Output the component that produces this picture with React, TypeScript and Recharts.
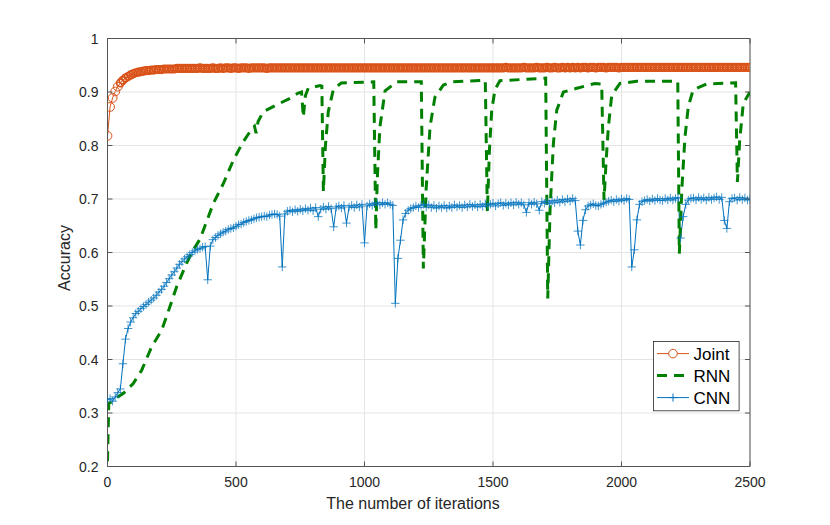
import { LineChart, Line, XAxis, YAxis, CartesianGrid, ReferenceLine } from 'recharts';

// sampled every 10 iterations
const iterations = Array.from({ length: 251 }, (_, i) => i * 10);

const jointAcc = [
  0.818, 0.872, 0.889, 0.901, 0.910, 0.917, 0.922, 0.926, 0.929, 0.932,
  0.934, 0.936, 0.937, 0.938, 0.939, 0.940, 0.940, 0.941, 0.941, 0.942,
  0.942, 0.942, 0.943, 0.943, 0.943, 0.943, 0.943, 0.944, 0.944, 0.944,
  0.944, 0.944, 0.944, 0.944, 0.944, 0.944, 0.945, 0.944, 0.944, 0.944,
  0.944, 0.945, 0.944, 0.944, 0.945, 0.944, 0.945, 0.945, 0.944, 0.945,
  0.945, 0.944, 0.945, 0.945, 0.945, 0.944, 0.945, 0.945, 0.945, 0.945,
  0.945, 0.945, 0.944, 0.945, 0.945, 0.945, 0.945, 0.945, 0.945, 0.945,
  0.945, 0.945, 0.945, 0.945, 0.945, 0.945, 0.945, 0.945, 0.945, 0.945,
  0.945, 0.945, 0.945, 0.945, 0.945, 0.945, 0.945, 0.945, 0.945, 0.945,
  0.945, 0.945, 0.945, 0.945, 0.945, 0.945, 0.945, 0.945, 0.945, 0.945,
  0.945, 0.945, 0.945, 0.945, 0.945, 0.945, 0.945, 0.945, 0.945, 0.945,
  0.945, 0.945, 0.945, 0.945, 0.945, 0.945, 0.945, 0.945, 0.945, 0.945,
  0.945, 0.945, 0.945, 0.945, 0.945, 0.945, 0.945, 0.945, 0.945, 0.945,
  0.945, 0.945, 0.945, 0.945, 0.945, 0.945, 0.945, 0.945, 0.945, 0.945,
  0.945, 0.945, 0.945, 0.945, 0.945, 0.945, 0.945, 0.945, 0.945, 0.945,
  0.945, 0.945, 0.945, 0.945, 0.945, 0.946, 0.945, 0.945, 0.945, 0.945,
  0.945, 0.945, 0.946, 0.945, 0.945, 0.945, 0.945, 0.946, 0.945, 0.945,
  0.945, 0.946, 0.945, 0.945, 0.946, 0.945, 0.945, 0.946, 0.945, 0.946,
  0.945, 0.946, 0.945, 0.946, 0.945, 0.946, 0.946, 0.945, 0.946, 0.946,
  0.945, 0.946, 0.946, 0.946, 0.945, 0.946, 0.946, 0.946, 0.946, 0.945,
  0.946, 0.946, 0.946, 0.946, 0.946, 0.946, 0.946, 0.946, 0.946, 0.946,
  0.946, 0.946, 0.946, 0.946, 0.946, 0.946, 0.946, 0.946, 0.946, 0.946,
  0.946, 0.946, 0.946, 0.946, 0.946, 0.946, 0.946, 0.946, 0.946, 0.946,
  0.946, 0.946, 0.946, 0.946, 0.946, 0.946, 0.946, 0.946, 0.946, 0.946,
  0.946, 0.946, 0.946, 0.946, 0.946, 0.946, 0.946, 0.946, 0.946, 0.946,
  0.946,
];

const cnnAcc = [
  0.325, 0.327, 0.322, 0.330, 0.338, 0.345, 0.392, 0.438, 0.458, 0.470,
  0.478, 0.486, 0.490, 0.495, 0.499, 0.503, 0.507, 0.511, 0.515, 0.520,
  0.526, 0.531, 0.537, 0.544, 0.551, 0.558, 0.564, 0.571, 0.578, 0.583,
  0.588, 0.592, 0.596, 0.600, 0.603, 0.606, 0.607, 0.610, 0.611, 0.549,
  0.612, 0.624, 0.628, 0.632, 0.635, 0.638, 0.640, 0.643, 0.645, 0.646,
  0.649, 0.652, 0.653, 0.656, 0.658, 0.660, 0.661, 0.663, 0.665, 0.666,
  0.667, 0.668, 0.667, 0.670, 0.671, 0.672, 0.671, 0.668, 0.573, 0.672,
  0.677, 0.679, 0.676, 0.680, 0.677, 0.681, 0.678, 0.682, 0.679, 0.683,
  0.678, 0.684, 0.667, 0.681, 0.685, 0.681, 0.686, 0.682, 0.648, 0.685,
  0.687, 0.683, 0.688, 0.655, 0.685, 0.688, 0.684, 0.689, 0.685, 0.690,
  0.618, 0.687, 0.691, 0.688, 0.692, 0.693, 0.689, 0.693, 0.690, 0.693,
  0.690, 0.688, 0.505, 0.589, 0.623, 0.661, 0.673, 0.679, 0.682, 0.684,
  0.687, 0.684, 0.688, 0.690, 0.685, 0.689, 0.684, 0.688, 0.683, 0.687,
  0.684, 0.688, 0.683, 0.687, 0.684, 0.689, 0.685, 0.688, 0.684, 0.689,
  0.685, 0.690, 0.686, 0.689, 0.685, 0.690, 0.686, 0.691, 0.687, 0.690,
  0.692, 0.687, 0.691, 0.693, 0.688, 0.692, 0.689, 0.693, 0.689, 0.694,
  0.690, 0.693, 0.689, 0.675, 0.693, 0.690, 0.694, 0.691, 0.679, 0.695,
  0.692, 0.696, 0.691, 0.697, 0.693, 0.698, 0.694, 0.699, 0.695, 0.700,
  0.696, 0.701, 0.697, 0.640, 0.614, 0.660, 0.680, 0.687, 0.689, 0.691,
  0.688, 0.687, 0.690, 0.692, 0.694, 0.696, 0.698, 0.695, 0.699, 0.696,
  0.700, 0.697, 0.701, 0.699, 0.573, 0.605, 0.661, 0.690, 0.695, 0.697,
  0.699, 0.696, 0.700, 0.697, 0.701, 0.698, 0.697, 0.701, 0.698, 0.702,
  0.698, 0.701, 0.703, 0.627, 0.667, 0.690, 0.698, 0.701, 0.702, 0.698,
  0.703, 0.699, 0.702, 0.698, 0.703, 0.699, 0.702, 0.704, 0.699, 0.703,
  0.660, 0.645, 0.695, 0.701, 0.702, 0.698, 0.703, 0.699, 0.702, 0.698,
  0.700,
];

// RNN is read at its turning points
const rnnIter = [
  0, 5, 20, 40, 62, 100, 133, 172, 211, 243, 269, 308, 334, 360, 412, 451, 490, 528,
  560, 572, 578, 586, 606, 658, 710, 742, 755, 762, 770, 781, 827, 834, 840, 848, 859,
  879, 910, 1036, 1044, 1050, 1060, 1080, 1125, 1221, 1229, 1240, 1255, 1274, 1307,
  1340, 1470, 1478, 1486, 1495, 1508, 1527, 1705, 1713, 1722, 1735, 1748, 1774, 1826,
  1897, 1923, 1932, 1940, 1949, 1962, 1994, 2059, 2219, 2225, 2235, 2247, 2260, 2279,
  2332, 2444, 2451, 2460, 2474, 2500,
];
const rnnAcc = [
  0.21, 0.318, 0.322, 0.33, 0.337, 0.355, 0.38, 0.424, 0.455, 0.499, 0.536, 0.58, 0.605, 0.625, 0.692, 0.729, 0.773, 0.807,
  0.83, 0.836, 0.823, 0.845, 0.863, 0.876, 0.888, 0.898, 0.9, 0.853, 0.893, 0.907, 0.912, 0.911, 0.714, 0.8, 0.863,
  0.905, 0.917, 0.919, 0.642, 0.74, 0.835, 0.902, 0.919, 0.919, 0.57, 0.72, 0.835, 0.89, 0.913,
  0.919, 0.922, 0.676, 0.79, 0.866, 0.905, 0.921, 0.926, 0.514, 0.68, 0.804, 0.866, 0.9, 0.907,
  0.916, 0.915, 0.698, 0.77, 0.835, 0.894, 0.916, 0.92, 0.92, 0.598, 0.72, 0.816, 0.873, 0.904,
  0.915, 0.917, 0.732, 0.81, 0.879, 0.9,
];

const xTicks = [0, 500, 1000, 1500, 2000, 2500];
const xTickLabels = ['0', '500', '1000', '1500', '2000', '2500'];
const yTicks = [0.2, 0.3, 0.4, 0.5, 0.6, 0.7, 0.8, 0.9, 1];
const yTickLabels = ['0.2', '0.3', '0.4', '0.5', '0.6', '0.7', '0.8', '0.9', '1'];

const jointData = iterations.map((iter, i) => ({ iter, acc: jointAcc[i] }));
const cnnData = iterations.map((iter, i) => ({ iter, acc: cnnAcc[i] }));
const rnnData = rnnIter.map((iter, i) => ({ iter, acc: rnnAcc[i] }));

const FONT = '"Liberation Sans", Arial, Helvetica, sans-serif';
const TEXT = '#262626';
const AXIS = '#555555';
const JOINT = '#D95319';
const RNN = '#008000';
const CNN = '#0072BD';
const RNN_DASH = '10 7';

const PLOT_TOP = 38.5;
const PLOT_RIGHT = 750;

function XTick({ x, y, payload }: any) {
  const i = xTicks.indexOf(payload.value);
  return (
    <g>
      <line x1={x} y1={y} x2={x} y2={y - 5} stroke={AXIS} />
      <line x1={x} y1={PLOT_TOP} x2={x} y2={PLOT_TOP + 5} stroke={AXIS} />
      <text x={x} y={y + 20.3} textAnchor="middle" fill={TEXT} fontSize={14} fontFamily={FONT}>
        {xTickLabels[i]}
      </text>
    </g>
  );
}

function YTick({ x, y, payload }: any) {
  const i = yTicks.indexOf(payload.value);
  return (
    <g>
      <line x1={x} y1={y} x2={x + 5} y2={y} stroke={AXIS} />
      <line x1={PLOT_RIGHT - 5} y1={y} x2={PLOT_RIGHT} y2={y} stroke={AXIS} />
      <text x={x - 9} y={y + 5} textAnchor="end" fill={TEXT} fontSize={14} fontFamily={FONT}>
        {yTickLabels[i]}
      </text>
    </g>
  );
}

// the first few circles stand apart; after that they pile into a solid band
function CircleDot(props: any) {
  const { cx, cy, index } = props;
  if (cx == null || cy == null) return <g key={index} />;
  const early = index < 5;
  return (
    <circle
      key={index}
      cx={cx}
      cy={cy}
      r={early ? 4.4 : 3.7}
      fill="none"
      stroke={JOINT}
      strokeWidth={early ? 1 : 1.8}
    />
  );
}

function PlusDot(props: any) {
  const { cx, cy, index } = props;
  if (cx == null || cy == null) return <g key={index} />;
  return (
    <path
      key={index}
      d={`M${cx - 4.2},${cy}h8.4M${cx},${cy - 4.2}v8.4`}
      stroke={CNN}
      strokeWidth={0.9}
      strokeOpacity={0.85}
      fill="none"
    />
  );
}

const legendItems = [
  { name: 'Joint', color: JOINT },
  { name: 'RNN', color: RNN },
  { name: 'CNN', color: CNN },
];

function LegendBox() {
  return (
    <svg width={87} height={71} style={{ position: 'absolute', left: 652.5, top: 340.5 }}>
      <rect x={0.5} y={0.5} width={85.6} height={69.3} fill="#fff" stroke="#262626" strokeWidth={0.8} />
      {legendItems.map((item, i) => {
        const cy = 12.6 + i * 22;
        return (
          <g key={item.name}>
            {item.name === 'RNN' ? (
              <line x1={4} y1={cy} x2={36} y2={cy} stroke={RNN} strokeWidth={3} strokeDasharray={RNN_DASH} />
            ) : (
              <line x1={4} y1={cy} x2={36} y2={cy} stroke={item.color} strokeWidth={1} />
            )}
            {item.name === 'Joint' && <circle cx={20} cy={cy} r={4.3} fill="#fff" stroke={JOINT} />}
            {item.name === 'CNN' && <path d={`M16,${cy}h8M20,${cy - 4}v8`} stroke={CNN} />}
            <text x={40.5} y={cy + 6} fontSize={17} fontFamily={FONT} fill="#000">
              {item.name}
            </text>
          </g>
        );
      })}
    </svg>
  );
}

export default function App() {
  return (
    <div style={{ position: 'absolute', left: 0, top: 0, width: 830, height: 525, background: '#fff' }}>
      <LineChart width={830} height={525} margin={{ top: PLOT_TOP, right: 80, bottom: 0, left: 0 }}>
        <CartesianGrid stroke="#e4e4e4" />
        <XAxis
          type="number"
          dataKey="iter"
          domain={[0, 2500]}
          ticks={xTicks}
          height={58.5}
          tickSize={0}
          tickMargin={0}
          tick={(p: any) => <XTick {...p} />}
          axisLine={{ stroke: AXIS }}
          allowDataOverflow
          label={{
            content: () => (
              <text x={413} y={509} textAnchor="middle" fill={TEXT} fontSize={16} fontFamily={FONT}>
                The number of iterations
              </text>
            ),
          }}
        />
        <YAxis
          type="number"
          domain={[0.2, 1]}
          ticks={yTicks}
          width={107.5}
          tickSize={0}
          tickMargin={0}
          tick={(p: any) => <YTick {...p} />}
          axisLine={{ stroke: AXIS }}
          allowDataOverflow
          label={{
            content: () => (
              <text
                x={70}
                y={258}
                transform="rotate(-90 70 258)"
                textAnchor="middle"
                fill={TEXT}
                fontSize={16}
                fontFamily={FONT}
              >
                Accuracy
              </text>
            ),
          }}
        />
        <ReferenceLine y={1} stroke={AXIS} />
        <ReferenceLine x={2500} stroke={AXIS} />
        <Line
          data={jointData}
          dataKey="acc"
          name="Joint"
          type="linear"
          stroke={JOINT}
          strokeWidth={1}
          dot={(p: any) => <CircleDot {...p} key={p.index} />}
          activeDot={false}
          isAnimationActive={false}
        />
        <Line
          data={cnnData}
          dataKey="acc"
          name="CNN"
          type="linear"
          stroke={CNN}
          strokeWidth={1}
          dot={(p: any) => <PlusDot {...p} key={p.index} />}
          activeDot={false}
          isAnimationActive={false}
        />
        <Line
          data={rnnData}
          dataKey="acc"
          name="RNN"
          type="linear"
          stroke={RNN}
          strokeWidth={3}
          strokeDasharray={RNN_DASH}
          dot={false}
          activeDot={false}
          isAnimationActive={false}
        />
      </LineChart>
      <LegendBox />
    </div>
  );
}
